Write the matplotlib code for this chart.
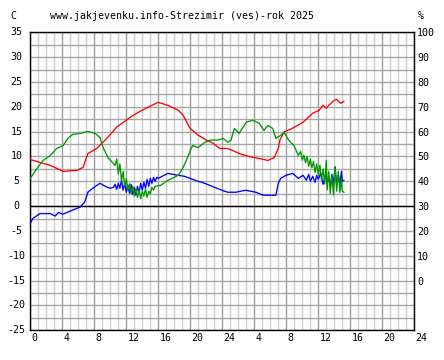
import matplotlib
matplotlib.use("Agg")
import matplotlib.pyplot as plt
from matplotlib.ticker import MultipleLocator

# ---------------- data ----------------
title = "www.jakjevenku.info-Strezimir (ves)-rok 2025"
x_tick_pos = [0, 4, 8, 12, 16, 20, 24, 28, 32, 36, 40, 44, 48]
x_tick_labels = ["0", "4", "8", "12", "16", "20", "24", "4", "8", "12", "16", "20", "24"]
left_ticks = [35, 30, 25, 20, 15, 10, 5, 0, -5, -10, -15, -20, -25]
right_ticks = [100, 90, 80, 70, 60, 50, 40, 30, 20, 10, 0]

# temperature (C) - red
red_h = [0, 1.2, 2.5, 4.1, 5.8, 6.6, 7.2, 8.3, 9.6, 10.8, 12.5, 13.5, 14.7, 15.96,
         17.2, 18.5, 19.1, 19.96, 20.96, 22.0, 22.8, 23.7, 24.7, 25.3, 26.1, 27.3,
         28.6, 29.7, 30.5, 31.0, 31.2, 31.7, 32.8, 34.1, 35.3, 36.1, 36.6, 37.0,
         37.3, 38.0, 38.3, 38.8, 39.2]
red_v = [9.4, 8.8, 8.2, 7.0, 7.2, 7.8, 10.6, 11.6, 13.7, 15.9, 17.9, 18.9, 19.9, 20.9,
         20.3, 19.3, 18.3, 15.7, 14.3, 13.3, 12.7, 11.6, 11.6, 11.2, 10.6, 10.0,
         9.6, 9.2, 9.8, 11.6, 13.3, 14.9, 15.7, 16.9, 18.7, 19.3, 20.3, 19.7,
         20.3, 21.3, 21.5, 20.7, 21.1]

# blue series (C)
blue_h = [0, 0.3, 1.2, 2.5, 3.1, 3.5, 4.1, 5.3, 6.2, 6.8, 7.2, 7.8, 8.7, 9.6, 10.0,
          10.4, 10.6, 10.8, 11.0, 11.2, 11.4, 11.6, 11.8, 12.0, 12.2, 12.4, 12.6,
          12.8, 13.0, 13.2, 13.4, 13.6, 13.8, 14.0, 14.2, 14.4, 14.6, 14.8, 15.0,
          15.2, 15.4, 15.6, 15.8, 16.0, 17.2, 18.5, 19.3, 20.6, 21.8, 23.0, 24.3,
          24.7, 25.7, 26.9, 28.2, 29.1, 30.3, 30.7, 31.0, 31.3, 31.96, 32.8, 33.5,
          34.1, 34.5, 34.8, 35.0, 35.3, 35.6, 35.8, 36.0, 36.3, 36.6, 36.9, 37.1,
          37.3, 37.5, 37.7, 37.9, 38.1, 38.3, 38.5, 38.7, 38.9, 39.0, 39.2]
blue_v = [-3.5, -2.5, -1.5, -1.5, -2.0, -1.3, -1.6, -0.8, -0.2, 0.8, 2.8, 3.6, 4.6, 3.8, 3.6,
          3.8, 4.4, 3.4, 4.6, 3.6, 5.2, 3.2, 4.6, 2.8, 4.2, 2.6, 4.4,
          2.4, 3.8, 2.2, 4.0, 2.6, 4.6, 3.2, 4.8, 3.6, 5.4, 4.0, 5.6,
          4.6, 5.8, 5.0, 5.8, 5.6, 6.6, 6.2, 6.0, 5.2, 4.6, 3.8, 3.0,
          2.8, 2.8, 3.2, 2.8, 2.2, 2.2, 2.2, 4.6, 5.6, 6.2, 6.6, 5.6,
          6.2, 5.2, 6.4, 5.0, 6.0, 4.8, 6.2, 5.4, 6.6, 4.4, 6.2, 4.6,
          5.8, 4.0, 6.4, 4.6, 7.8, 4.2, 6.2, 4.4, 7.0, 5.0, 5.2]

# humidity (%) - green
green_h = [0, 0.84, 1.6, 2.5, 3.3, 4.1, 4.7, 5.3, 6.2, 7.2, 8.1, 8.7, 9.1, 9.7,
           10.6, 10.8, 11.0, 11.2, 11.4, 11.6, 11.8, 12.0, 12.2, 12.4, 12.6, 12.8,
           13.0, 13.2, 13.4, 13.6, 13.8, 14.0, 14.2, 14.4, 14.6, 14.8, 15.0, 15.2,
           15.4, 15.6, 16.3, 17.2, 18.5, 19.1, 19.5, 20.0, 20.3, 21.0, 21.8, 22.6,
           23.5, 24.1, 24.7, 25.1, 25.5, 26.1, 27.0, 27.8, 28.6, 29.2, 29.7, 30.3,
           30.7, 31.3, 31.7, 32.3, 32.96, 33.5, 33.8, 34.0, 34.2, 34.4, 34.6, 34.8,
           35.0, 35.2, 35.4, 35.6, 35.8, 36.0, 36.2, 36.4, 36.6, 36.8, 37.0, 37.1,
           37.3, 37.5, 37.7, 37.9, 38.1, 38.3, 38.5, 38.7, 38.9, 39.0, 39.2]
green_v = [41.2, 45.2, 48.4, 50.4, 53.2, 54.4, 57.3, 58.9, 59.3, 60.1, 59.3, 57.7, 53.6, 49.6,
           46.4, 49.0, 43.0, 47.0, 40.0, 44.0, 38.0, 41.0, 36.5, 39.0, 35.0, 38.0,
           34.0, 37.0, 33.5, 36.5, 33.0, 36.0, 34.0, 37.0, 33.5, 36.0, 35.0, 37.5,
           36.5, 38.0, 38.4, 40.4, 42.4, 45.6, 48.4, 52.4, 54.4, 53.6, 55.7, 56.6,
           56.6, 57.3, 55.7, 56.6, 61.3, 59.3, 63.8, 64.6, 63.4, 60.5, 62.5, 61.3,
           57.3, 58.5, 59.7, 56.6, 54.4, 50.4, 52.0, 48.5, 50.5, 47.5, 50.0, 46.0,
           49.0, 45.5, 48.0, 43.5, 47.0, 42.5, 46.5, 40.5, 45.0, 39.0, 48.5, 36.5,
           44.0, 35.0, 42.5, 34.5, 46.0, 36.0, 44.0, 35.5, 41.0, 36.0, 35.6]

# ---------------- figure ----------------
W, H = 444, 360
fig = plt.figure(figsize=(W / 100, H / 100), dpi=100)
fig.patch.set_facecolor("white")
L, R, T, B = 30.3, 414.3, 32.3, 330.3
ax = fig.add_axes([L / W, 1 - B / H, (R - L) / W, (B - T) / H])
ax.set_xlim(0, 48)
ax.set_ylim(-25, 35)

mono = "DejaVu Sans Mono"
fs = 7.2

# grid
ax.xaxis.set_major_locator(MultipleLocator(4))
ax.xaxis.set_minor_locator(MultipleLocator(1))
ax.yaxis.set_major_locator(MultipleLocator(5))
ax.yaxis.set_minor_locator(MultipleLocator(2.5))
ax.grid(which="major", axis="x", color="#999999", lw=1.0, zorder=0)
ax.grid(which="minor", axis="x", color="#cccccc", lw=1.0, zorder=0)
ax.grid(which="both", axis="y", color="#a6a6a6", lw=1.0, zorder=0)
ax.set_axisbelow(True)
ax.tick_params(which="both", length=0, labelleft=False, labelbottom=False)

ax.axhline(0, color="black", lw=1.0, zorder=2)

for s in ("top", "bottom"):
    ax.spines[s].set_linestyle((0, (4, 1)))
    ax.spines[s].set_color("black")
    ax.spines[s].set_linewidth(1.0)
for s in ("left", "right"):
    ax.spines[s].set_color("black")
    ax.spines[s].set_linewidth(1.0)

ax.plot(red_h, red_v, color="#ff0000", lw=0.95, zorder=3)
ax.plot(blue_h, blue_v, color="#0000ff", lw=0.95, zorder=4)

ax2 = ax.twinx()
ax2.set_ylim(-20, 100)
ax2.plot(green_h, green_v, color="#009900", lw=0.95, zorder=3)
ax2.tick_params(which="both", length=0, pad=2)
ax2.set_yticks(right_ticks)
ax2.set_yticklabels([str(t) for t in right_ticks], fontfamily=mono, fontsize=fs)
for s in ax2.spines.values():
    s.set_visible(False)

# left labels
for t in left_ticks:
    ax.text(-1.7, t, str(t), transform=ax.transData, ha="center", va="center",
            fontfamily=mono, fontsize=fs)
# x labels
for p, lab in zip(x_tick_pos, x_tick_labels):
    ax.text(p + 0.15, -25.6, lab, ha="left", va="top", fontfamily=mono, fontsize=fs)

fig.text(10 / W, 1 - 16 / H, "C", ha="left", va="center", fontfamily=mono, fontsize=fs)
fig.text(50 / W, 1 - 16 / H, title, ha="left", va="center", fontfamily=mono, fontsize=fs)
fig.text(418 / W, 1 - 16 / H, "%", ha="left", va="center", fontfamily=mono, fontsize=fs)

fig.savefig("out.png", dpi=100)
